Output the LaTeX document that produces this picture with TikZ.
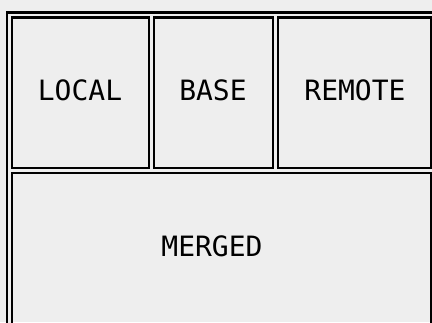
\documentclass[tikz,border=0pt]{standalone}
\usepackage{fontspec}
\setmonofont{DejaVu Sans Mono}
\usetikzlibrary{positioning}
\definecolor{paneback}{HTML}{EEEEEE}

\begin{document}
\begin{tikzpicture}[
    x=1pt, y=-1pt,
    frame/.style={draw=black, line width=2.6pt, double=paneback, double distance=2.2pt},
    pane/.style={font=\ttfamily\fontsize{28}{30}\selectfont, text=black, inner sep=0pt}
]

    % Background and picture size
    \fill[paneback] (0,0) rectangle (432,322);
    \useasboundingbox (0,0) rectangle (432,322);
    \clip (0,0) rectangle (432,322);

    % Grid corners
    \coordinate (topleft) at (9.5,15);
    \coordinate (botright) at (433.5,330);
    \coordinate (rowleft) at (9.5,170.5);
    \coordinate (rowright) at (433.5,170.5);

    % Double-line frame, one path so the junctions merge
    \draw[frame] (topleft) rectangle (botright)
        (rowleft) -- (rowright)
        (151.5,15) -- (151.5,170.5)
        (275.5,15) -- (275.5,170.5);

    % Pane labels
    \node[pane] (local) at (80,90) {LOCAL};
    \node[pane] (base) at (213,90) {BASE};
    \node[pane] (remote) at (355,90) {REMOTE};
    \node[pane] (merged) at (212,246) {MERGED};

\end{tikzpicture}
\end{document}
